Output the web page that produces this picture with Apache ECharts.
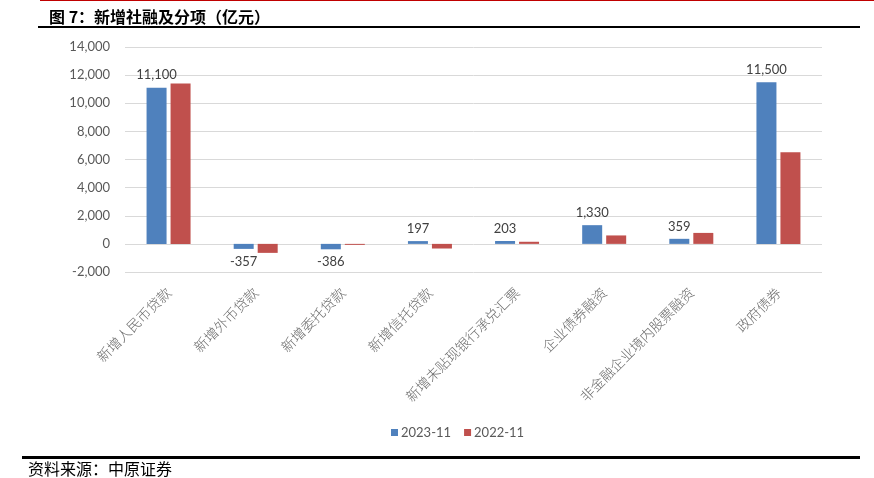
<!DOCTYPE html>
<html>
<head>
<meta charset="utf-8">
<script src="https://cdn.jsdelivr.net/npm/echarts@6/dist/echarts.min.js"></script>
<style>html,body{margin:0;padding:0;background:#fff;}#c{width:874px;height:478px;}</style>
</head>
<body>
<div id="c"></div>
<script>
var categories = ['新增人民币贷款','新增外币贷款','新增委托贷款','新增信托贷款','新增未贴现银行承兑汇票','企业债券融资','非金融企业境内股票融资','政府债券'];
var seriesNames = ['2023-11','2022-11'];
var values2023 = [11100, -357, -386, 197, 203, 1330, 359, 11500];
var values2022 = [11400, -640, -70, -330, 150, 600, 780, 6520];
var yTicks = {min: -2000, max: 14000, interval: 2000};

var chart = echarts.init(document.getElementById('c'));
var numFont = 'Lato, "Open Sans", sans-serif';
var cjkFont = '"Noto Sans CJK SC", sans-serif';
function fmt(v){ return echarts.format.addCommas(v); }
var data2023 = values2023.map(function(v){
  return {value: v, label: {position: v < 0 ? 'bottom' : 'top'}};
});
chart.setOption({
  animation: false,
  title: {
    text: '图 7：新增社融及分项（亿元）',
    left: 44, top: 4,
    textStyle: {fontFamily: cjkFont, fontSize: 16, fontWeight: 'bold', color: '#000'}
  },
  graphic: [
    {type: 'rect', shape: {x: 40, y: 0, width: 834, height: 1}, style: {fill: '#c00000'}},
    {type: 'rect', shape: {x: 38, y: 26, width: 822, height: 2}, style: {fill: '#000'}},
    {type: 'rect', shape: {x: 22, y: 456, width: 838, height: 3}, style: {fill: '#000'}},
    {type: 'text', left: 28, top: 461, style: {text: '资料来源：中原证券', fontFamily: cjkFont, fontSize: 16, fill: '#000'}}
  ],
  legend: {
    data: seriesNames,
    left: 386, top: 421,
    itemWidth: 7, itemHeight: 7, itemGap: 13,
    icon: 'rect',
    textStyle: {fontFamily: numFont, fontSize: 13, color: '#595959', padding: [0,0,0,-2]}
  },
  grid: {left: 125, right: 52, top: 47, bottom: 206, containLabel: false},
  xAxis: {
    type: 'category',
    data: categories,
    axisLine: {show: false},
    axisTick: {show: false},
    axisLabel: {
      interval: 0, rotate: 45, margin: 18,
      fontFamily: cjkFont, fontSize: 14, fontWeight: 300, color: '#6b6b6b'
    }
  },
  yAxis: {
    type: 'value',
    min: yTicks.min, max: yTicks.max, interval: yTicks.interval,
    axisLine: {show: false},
    axisTick: {show: false},
    splitLine: {lineStyle: {color: '#d9d9d9', width: 1}},
    axisLabel: {fontFamily: numFont, fontSize: 13, color: '#595959', margin: 15, formatter: fmt}
  },
  series: [
    {
      name: seriesNames[0], type: 'bar', data: data2023,
      barWidth: 20, barGap: '20%',
      itemStyle: {color: '#4f81bd'},
      label: {show: true, distance: 6, fontFamily: numFont, fontSize: 13, color: '#404040',
        formatter: function(p){ return fmt(p.value); }}
    },
    {
      name: seriesNames[1], type: 'bar', data: values2022,
      barWidth: 20, barGap: '20%',
      itemStyle: {color: '#c0504d'}
    }
  ]
});
</script>
</body>
</html>
